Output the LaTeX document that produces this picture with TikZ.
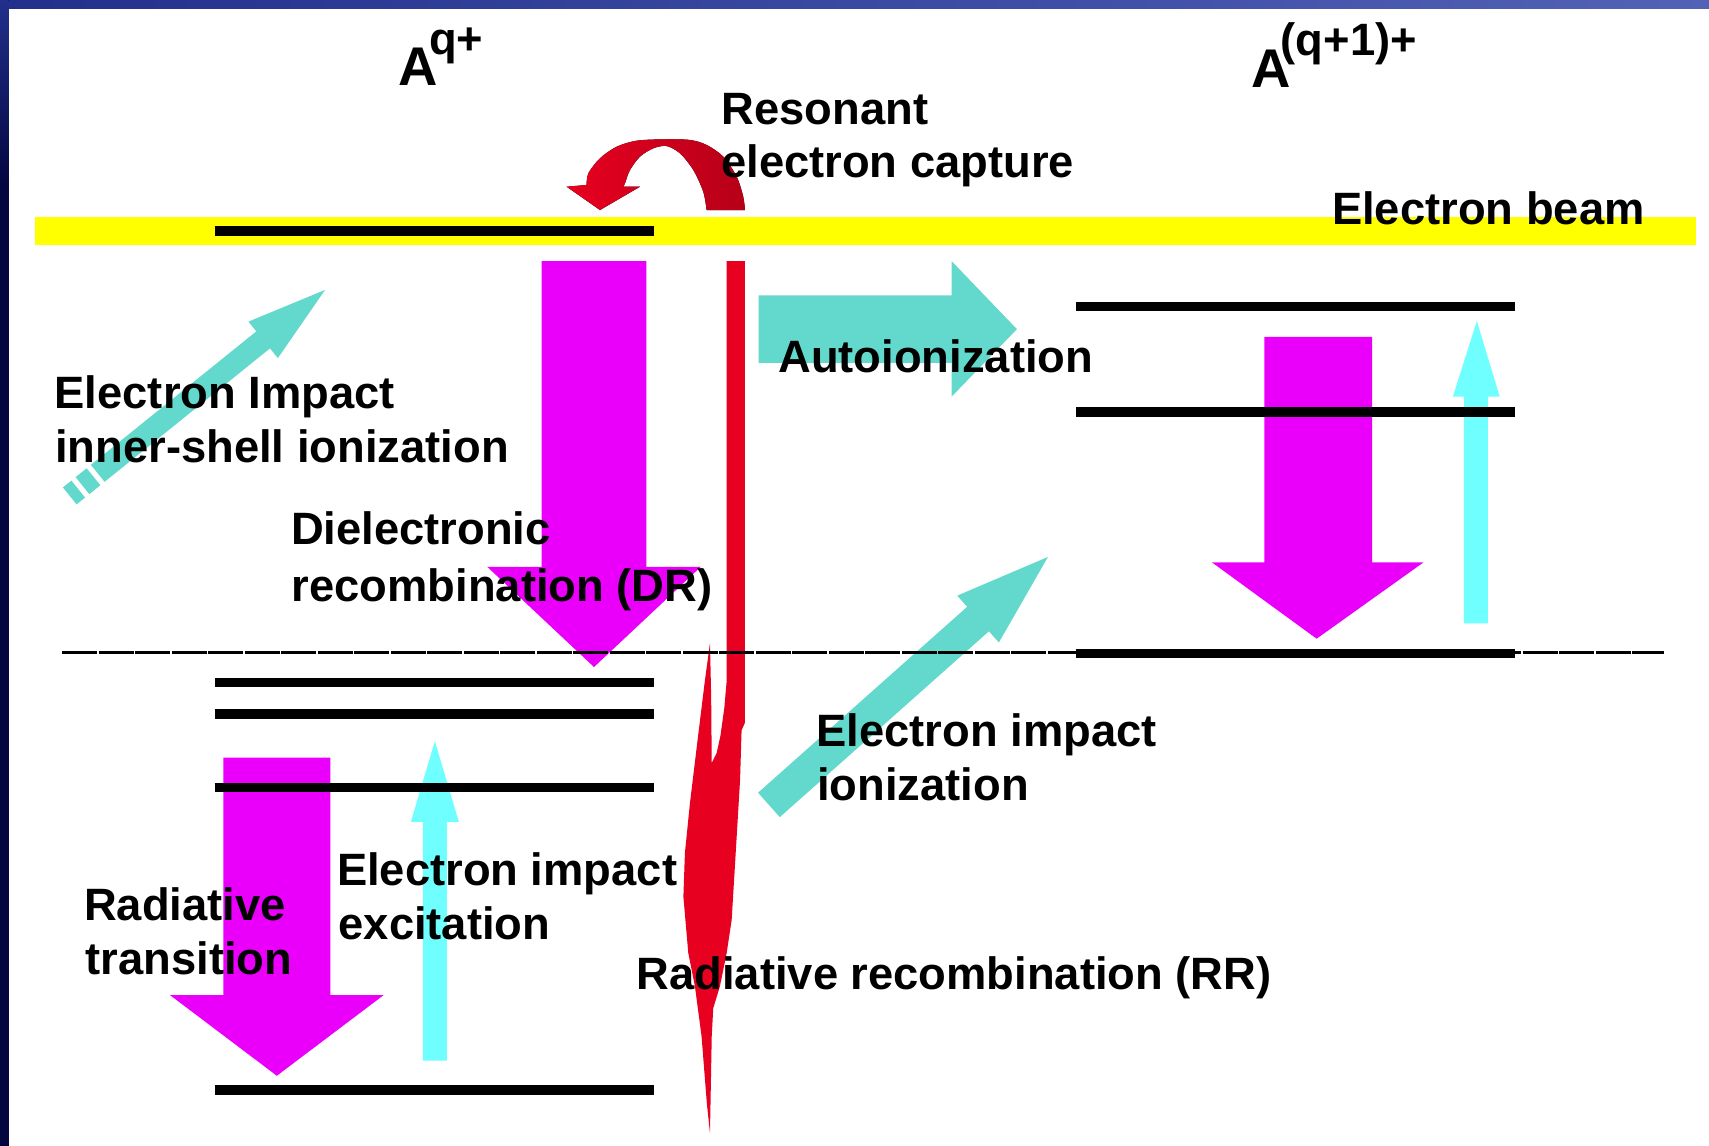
\documentclass[tikz,border=0pt]{standalone}
\usepackage{fontspec}
\setmainfont{Liberation Sans}
\definecolor{magA}{RGB}{234,0,250}
\definecolor{turq}{RGB}{98,217,204}
\definecolor{lcyan}{RGB}{112,255,255}
\definecolor{redA}{RGB}{232,0,32}
\definecolor{redB}{RGB}{182,0,24}
\definecolor{navyA}{RGB}{34,48,140}
\definecolor{navyB}{RGB}{82,98,182}
\definecolor{navyC}{RGB}{4,6,64}
\definecolor{beamY}{RGB}{255,255,0}
\tikzset{
  lbl/.style={anchor=base west, inner sep=0pt, font=\bfseries\fontsize{41.6}{50}\selectfont},
  bigA/.style={anchor=base west, inner sep=0pt, font=\bfseries\fontsize{50}{60}\selectfont},
  level/.style={line width=8.5pt, black},
  midline/.style={line width=2.4pt, black, dash pattern=on 32pt off 1.5pt},
}
\begin{document}
\begin{tikzpicture}[x=1pt,y=-1pt]
\useasboundingbox (0,0) rectangle (1568,1051);
% background frame
\fill[navyC] (0,0) rectangle (1568,1051);
\fill[left color=navyA, right color=navyB] (0,0) rectangle (1568,8);
\fill[top color=navyA, bottom color=navyC] (0,0) rectangle (8,170);
\fill[white] (8,8) rectangle (1568,1051);

% electron beam
\fill[beamY] (32,199) rectangle (1556,224.8);

% red bar and RR flame
\fill[redA] (666.7,239.5) -- (683.5,239.5) -- (683.5,663) -- (680.4,670) -- (679,715.6)
  -- (675.9,767.6) -- (671.3,844) -- (666.7,874.5) -- (660.5,905) -- (654.4,925)
  -- (653,951) -- (651.4,1039.5) -- (648.5,1012) -- (643.7,951) -- (637.6,905)
  -- (631.5,874.5) -- (627,822.6) -- (628.4,782.6) -- (633,737) -- (640.4,676)
  -- (646.8,624) -- (651.4,590) -- (652.5,640) -- (653,700) -- (657.5,691)
  -- (661,675) -- (664.5,650) -- (666.7,625) -- cycle;

% resonant capture curved arrow
\fill[left color=redA, right color=redB]
  plot[smooth] coordinates {(683.5,192.7) (681.9,180.4) (675.9,162.1) (663.6,143.7)
    (648.3,133) (633,128.4) (608.6,127.8) (584.1,129.1) (565.8,134.6) (550.5,145.2)
    (539.8,159) (538.2,169.7)}
  -- (519.9,171.3) -- (550.5,192.7) -- (587.2,171.3)
  -- plot[smooth] coordinates {(572,171.3) (573.4,168.2) (578,156) (587.2,143.7)
    (599.4,136.1) (611.6,134) (623.9,140.7) (636.1,156) (645.2,175.8) (648.3,192.7)}
  -- cycle;

% magenta arrows
\fill[magA] (497,239.5) -- (593,239.5) -- (593,520) -- (643,520) -- (545,612)
  -- (447,520) -- (497,520) -- cycle;
\fill[magA] (1160,309) -- (1259,309) -- (1259,516) -- (1306,516) -- (1208,586)
  -- (1112,516) -- (1160,516) -- cycle;
\fill[magA] (205,695) -- (303,695) -- (303,913) -- (352,913) -- (254,987)
  -- (156,913) -- (205,913) -- cycle;

% light cyan excitation arrows
\fill[lcyan] (1343,572) -- (1365,572) -- (1365,364) -- (1376,364) -- (1355,294.5)
  -- (1333,364) -- (1343,364) -- cycle;
\fill[lcyan] (388,973) -- (410,973) -- (410,754) -- (421,754) -- (399,680)
  -- (377,754) -- (388,754) -- cycle;

% turquoise arrows
\fill[turq] (696,271) -- (873,271) -- (873,239.5) -- (933,302) -- (873,364)
  -- (873,333) -- (696,333) -- cycle;
\begin{scope}[shift={(64,455)}, rotate=38.9]
  \fill[turq] (0,-10) rectangle (10,10);
  \fill[turq] (15,-10) rectangle (28,10);
  \fill[turq] (33,-10) -- (228,-10) -- (228,-21.5) -- (301,0) -- (228,21.5)
    -- (228,10) -- (33,10) -- cycle;
\end{scope}
\begin{scope}[shift={(705.5,738.5)}, rotate=41.63]
  \fill[turq] (0,-15) -- (256.7,-15) -- (256.7,-28.75) -- (342.5,0) -- (256.7,28.75)
    -- (256.7,15) -- (0,15) -- cycle;
\end{scope}

% energy levels
\draw[level] (197,212) -- (600,212);
\draw[level] (197,626) -- (600,626);
\draw[level] (197,655) -- (600,655);
\draw[level] (197,722.5) -- (600,722.5);
\draw[level] (197,1000) -- (600,1000);
\draw[level] (987,281) -- (1390,281);
\draw[level] (987,378) -- (1390,378);
\draw[level] (987,599.5) -- (1390,599.5);
\draw[midline] (57,598.5) -- (1527,598.5);

% labels
\node[bigA] (a1) at (365,78) {A};
\node[lbl] (a1s) at (393.5,50) {q+};
\node[bigA] (a2) at (1148,80.7) {A};
\node[lbl] (a2s) at (1175,50.5) {(q+1)+};
\node[lbl] (res1) at (662,114.5) {Resonant};
\node[lbl] (res2) at (661.5,163) {electron capture};
\node[lbl] (beam) at (1222,206) {Electron beam};
\node[lbl] (eis1) at (50,374.5) {Electron Impact};
\node[lbl] (eis2) at (50.5,424.5) {inner-shell ionization};
\node[lbl] (dr1) at (267,500) {Dielectronic};
\node[lbl] (dr2) at (267.5,551.5) {recombination (DR)};
\node[lbl] (auto) at (714,341.5) {Autoionization};
\node[lbl] (eii1) at (749,685) {Electron impact};
\node[lbl] (eii2) at (749.5,734.5) {ionization};
\node[lbl] (eie1) at (309,812.5) {Electron impact};
\node[lbl] (eie2) at (310.5,862) {excitation};
\node[lbl] (rt1) at (77,844.5) {Radiative};
\node[lbl] (rt2) at (78.5,894) {transition};
\node[lbl] (rr) at (584,908) {Radiative recombination (RR)};
\end{tikzpicture}
\end{document}
